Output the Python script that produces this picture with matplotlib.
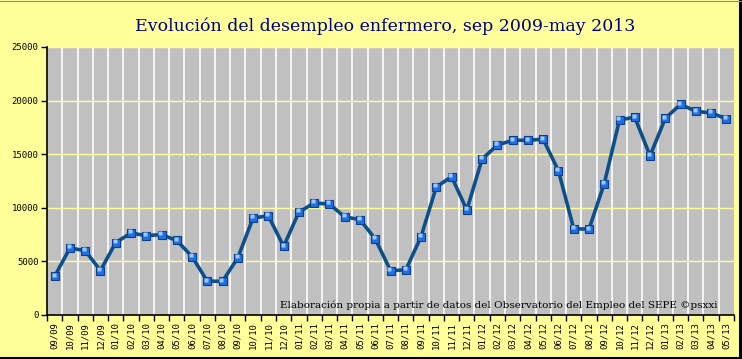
import numpy as np
import matplotlib.pyplot as plt
from matplotlib.patches import Rectangle

# months sep 2009 - may 2013
months = ['09/09', '10/09', '11/09', '12/09',
          '01/10', '02/10', '03/10', '04/10', '05/10', '06/10', '07/10', '08/10',
          '09/10', '10/10', '11/10', '12/10',
          '01/11', '02/11', '03/11', '04/11', '05/11', '06/11', '07/11', '08/11',
          '09/11', '10/11', '11/11', '12/11',
          '01/12', '02/12', '03/12', '04/12', '05/12', '06/12', '07/12', '08/12',
          '09/12', '10/12', '11/12', '12/12',
          '01/13', '02/13', '03/13', '04/13', '05/13']
parados = [3600, 6250, 6000, 4150,
           6750, 7650, 7400, 7500, 6950, 5450, 3150, 3150,
           5350, 9050, 9250, 6400,
           9600, 10450, 10350, 9150, 8900, 7100, 4150, 4200,
           7300, 11950, 12900, 9800,
           14550, 15850, 16300, 16300, 16400, 13450, 8050, 8000,
           12250, 18200, 18450, 14850,
           18350, 19650, 19000, 18850, 18300]
yticks = [0, 5000, 10000, 15000, 20000, 25000]

bg = '#FFFF99'
fig = plt.figure(figsize=(7.42, 3.59), dpi=100, facecolor=bg)

# frame: black shadow on right/bottom, thin grey top
fig.add_artist(plt.Line2D([0, 739/742], [1.5/359, 1.5/359], color='black', lw=2.2,
                          transform=fig.transFigure))
fig.add_artist(plt.Line2D([739.5/742, 739.5/742], [1.5/359, 1], color='black', lw=2.2,
                          transform=fig.transFigure))
fig.add_artist(plt.Line2D([0, 1], [358.5/359, 358.5/359], color='#888888', lw=0.8,
                          transform=fig.transFigure))

ax = fig.add_axes([47/742, 44/359, 687/742, 268/359])
ax.set_facecolor('#C0C0C0')

x = np.arange(len(months))
ax.plot(x, parados, color='#0D4F8B', lw=2.6, zorder=3)
ax.plot(x, parados, ls='none', marker='s', ms=6, mfc='#1F6FE0', mec='#0A3F8A',
        mew=0.8, zorder=4)
ax.plot(x - 0.07, np.array(parados) + 150, ls='none', marker='s', ms=2.2,
        mfc='#9CC8FF', mec='none', zorder=5)

ax.set_xlim(-0.5, len(months) - 0.5)
ax.set_ylim(0, 25000)

# white vertical grid lines at category boundaries
ax.set_xticks(np.arange(-0.5, len(months), 1))
ax.set_xticklabels([])
ax.set_xticks(x, minor=True)
ax.set_xticklabels(months, minor=True, rotation=90, fontsize=6.5,
                   family='DejaVu Sans Mono')
ax.tick_params(axis='x', which='minor', length=0, pad=5)
ax.tick_params(axis='x', which='major', length=4, width=1, direction='out')
for xb in np.arange(0.5, len(months) - 0.5, 1):
    ax.axvline(xb, color='white', lw=1.2, zorder=1)
for yv in yticks[1:]:
    ax.axhline(yv, color=bg, lw=1, zorder=2)

ax.set_yticks(yticks)
ax.set_yticklabels([str(v) for v in yticks], fontsize=6.5, family='DejaVu Sans Mono')
ax.tick_params(axis='y', length=4, width=1, direction='out', pad=2)

for s in ['top', 'right']:
    ax.spines[s].set_visible(False)
for s in ['left', 'bottom']:
    ax.spines[s].set_linewidth(1.2)

fig.text(718/742, 1 - 308/359,
         'Elaboración propia a partir de datos del Observatorio del Empleo del SEPE ©psxxi',
         ha='right', va='baseline', fontsize=7.5,
         family='DejaVu Serif', color='black', zorder=6)

fig.text(385/742, 1 - 31/359, 'Evolución del desempleo enfermero, sep 2009-may 2013',
         ha='center', va='baseline', fontsize=12.5, family='DejaVu Serif',
         color='#000080')

fig.savefig('out.png', dpi=100, facecolor=bg)
